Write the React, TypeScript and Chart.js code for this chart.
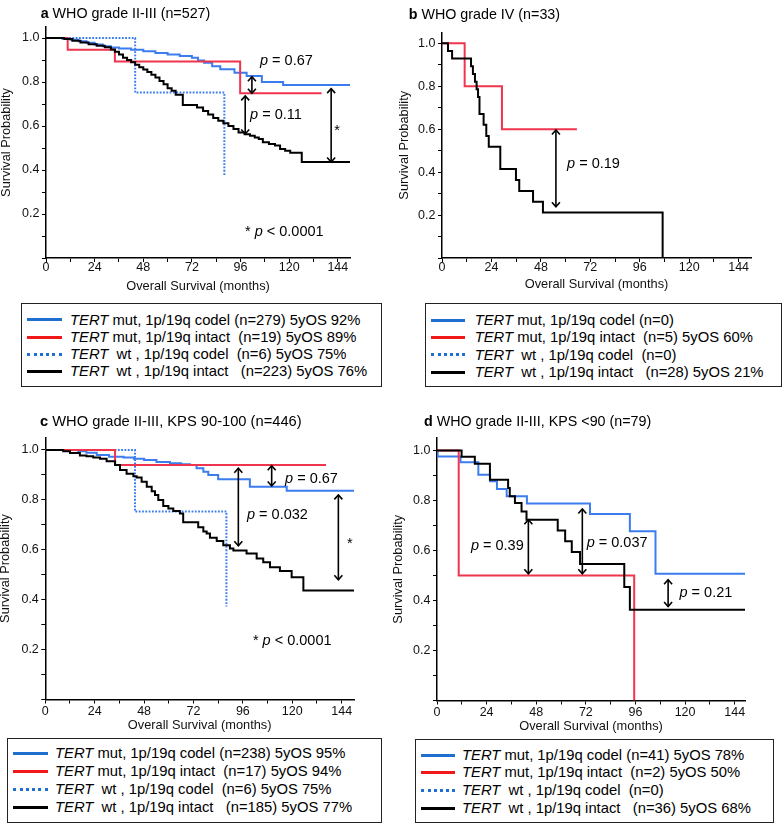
import React, { useEffect, useRef } from "react";
import { Chart, registerables } from "chart.js";

Chart.register(...registerables);

const FONT = '"Liberation Sans", Arial, Helvetica, sans-serif';

// ---------- axis ticks ----------
const monthTicks = [0, 12, 24, 36, 48, 60, 72, 84, 96, 108, 120, 132, 144];
const monthLabels = [0, 24, 48, 72, 96, 120, 144];
const probTicks = [0, 0.1, 0.2, 0.3, 0.4, 0.5, 0.6, 0.7, 0.8, 0.9, 1.0];
const probLabels = [0.2, 0.4, 0.6, 0.8, 1.0];

// ---------- panel a: WHO grade II-III (n=527) ----------
const aMutCodelT = [0, 8, 12, 16, 20, 24, 28, 32, 36, 42, 48, 54, 60, 66, 72, 75, 78, 82, 86, 93, 99, 106.5, 117, 150];
const aMutCodelS = [1, 0.997, 0.992, 0.985, 0.978, 0.97, 0.962, 0.957, 0.952, 0.947, 0.94, 0.932, 0.925, 0.918, 0.91, 0.898, 0.887, 0.872, 0.858, 0.842, 0.827, 0.8, 0.786, 0.786];
const aMutIntactT = [0, 10.7, 34, 95.8, 136];
const aMutIntactS = [1, 0.947, 0.893, 0.749, 0.749];
const aWtCodelT = [0, 44, 88];
const aWtCodelS = [1, 0.752, 0.376];
const aWtIntactT = [0, 9, 13, 17, 21, 25, 29, 32, 34, 36, 38, 40, 42, 44, 46, 48, 50, 52, 54, 56, 58, 60, 62, 64, 67.5, 74.5, 77.5, 80, 82.5, 85, 87.5, 90, 92.5, 95, 98, 100.7, 103, 105, 107, 110, 113, 115.5, 118, 120.5, 126.2, 150];
const aWtIntactS = [1, 0.995, 0.988, 0.98, 0.972, 0.965, 0.958, 0.948, 0.938, 0.925, 0.91, 0.9, 0.89, 0.878, 0.867, 0.857, 0.845, 0.833, 0.82, 0.805, 0.79, 0.772, 0.76, 0.742, 0.695, 0.684, 0.668, 0.652, 0.636, 0.624, 0.613, 0.6, 0.586, 0.571, 0.563, 0.556, 0.548, 0.541, 0.526, 0.518, 0.511, 0.496, 0.487, 0.478, 0.436, 0.436];

// ---------- panel b: WHO grade IV (n=33) ----------
const bMutIntactT = [0, 11, 29.1, 65.5];
const bMutIntactS = [1, 0.8, 0.6, 0.6];
const bWtIntactT = [0, 2.9, 4.9, 14.1, 15, 16, 16.8, 17.5, 18.2, 20.2, 21.5, 22.7, 28.3, 35.9, 37.5, 44.2, 49, 107.1];
const bWtIntactS = [1, 0.964, 0.929, 0.893, 0.857, 0.821, 0.786, 0.75, 0.67, 0.62, 0.568, 0.518, 0.414, 0.363, 0.312, 0.262, 0.212, 0];

// ---------- panel c: WHO grade II-III, KPS 90-100 (n=446) ----------
const cMutCodelT = [0, 16, 20, 25, 31, 38, 43, 48, 54, 60.6, 66, 70.3, 73.5, 76.8, 79.2, 84, 99.4, 117.3, 150];
const cMutCodelS = [1, 0.995, 0.989, 0.98, 0.973, 0.97, 0.965, 0.96, 0.952, 0.947, 0.943, 0.94, 0.927, 0.913, 0.9, 0.883, 0.853, 0.837, 0.837];
const cMutIntactT = [0, 33.9, 136.4];
const cMutIntactS = [1, 0.94, 0.94];
const cWtCodelT = [0, 43.6, 88];
const cWtCodelS = [1, 0.753, 0.373];
const cWtIntactT = [0, 8.7, 12, 16.8, 20, 23.3, 26.6, 29.8, 33.9, 36.3, 39.5, 42.8, 44.4, 46.8, 49.3, 51.7, 53.3, 54.9, 57.3, 59.8, 62.2, 65.4, 67, 74.3, 76.8, 78.4, 80, 83.3, 86.5, 89.7, 91.4, 97.8, 102.7, 105.9, 109.2, 114, 119.7, 125.4, 150];
const cWtIntactS = [1, 0.995, 0.988, 0.978, 0.975, 0.97, 0.965, 0.955, 0.94, 0.92, 0.905, 0.895, 0.89, 0.873, 0.853, 0.835, 0.82, 0.8, 0.775, 0.765, 0.755, 0.745, 0.71, 0.69, 0.673, 0.665, 0.648, 0.635, 0.618, 0.605, 0.597, 0.585, 0.565, 0.55, 0.53, 0.515, 0.49, 0.437, 0.437];

// ---------- panel d: WHO grade II-III, KPS <90 (n=79) ----------
const dMutCodelT = [0, 0.3, 11.4, 20, 25.7, 29, 33.7, 43.5, 74, 93.3, 105.7, 149];
const dMutCodelS = [1, 0.976, 0.953, 0.903, 0.877, 0.846, 0.817, 0.788, 0.746, 0.677, 0.507, 0.507];
const dMutIntactT = [0, 10.5, 95.4];
const dMutIntactS = [1, 0.5, 0];
const dWtIntactT = [0, 11.9, 18.3, 25.6, 34.4, 35.2, 37.7, 40.9, 43.3, 58.4, 62, 65.2, 69.2, 90.6, 93.3, 149];
const dWtIntactS = [1, 0.975, 0.947, 0.883, 0.85, 0.817, 0.79, 0.756, 0.723, 0.68, 0.637, 0.594, 0.546, 0.454, 0.363, 0.363];

// ---------- legend texts ----------
const legendA = [" mut, 1p/19q codel (n=279) 5yOS 92%", " mut, 1p/19q intact  (n=19) 5yOS 89%", "  wt , 1p/19q codel  (n=6) 5yOS 75%", "  wt , 1p/19q intact   (n=223) 5yOS 76%"];
const legendB = [" mut, 1p/19q codel (n=0)", " mut, 1p/19q intact  (n=5) 5yOS 60%", "  wt , 1p/19q codel  (n=0)", "  wt , 1p/19q intact   (n=28) 5yOS 21%"];
const legendC = [" mut, 1p/19q codel (n=238) 5yOS 95%", " mut, 1p/19q intact  (n=17) 5yOS 94%", "  wt , 1p/19q codel  (n=6) 5yOS 75%", "  wt , 1p/19q intact   (n=185) 5yOS 77%"];
const legendD = [" mut, 1p/19q codel (n=41) 5yOS 78%", " mut, 1p/19q intact  (n=2) 5yOS 50%", "  wt , 1p/19q codel  (n=0)", "  wt , 1p/19q intact   (n=36) 5yOS 68%"];

// ---------- styles ----------
const PLOT_BLUE = "#3b7cee";
const PLOT_RED = "#f0344d";
const PLOT_BLACK = "#000000";
const LEG_BLUE = "#1f6fd0";
const LEG_RED = "#f01818";
const DOT_DASH = [1.8, 1.5];

type Series = { t: number[]; s: number[]; color: string; dash?: number[] };
type Arrow = { x: number; y1: number; y2: number };
type Seg = { t: string; i?: boolean };
type Label = { x: number; y: number; segs: Seg[]; align?: "left" | "center" };
type PanelCfg = {
  canvas: { left: number; top: number; width: number; height: number };
  area: { l: number; r: number; t: number; b: number };
  xMax: number;
  tickPad: number;
  xTitleGap: number;
  yTitleGap: number;
  series: Series[];
  arrows: Arrow[];
  labels: Label[];
};

const P = (rest: string): Seg[] => [{ t: "p", i: true }, { t: rest }];
const STAR: Seg[] = [{ t: "* " }, { t: "p", i: true }, { t: " < 0.0001" }];

const panelA: PanelCfg = {
  canvas: { left: 0, top: 0, width: 392, height: 300 },
  area: { l: 46, r: 350, t: 27, b: 258 },
  xMax: 150, tickPad: -0.5, xTitleGap: 28, yTitleGap: 40,
  series: [
    { t: aWtIntactT, s: aWtIntactS, color: PLOT_BLACK },
    { t: aMutIntactT, s: aMutIntactS, color: PLOT_RED },
    { t: aWtCodelT, s: aWtCodelS, color: PLOT_BLUE, dash: DOT_DASH },
    { t: aMutCodelT, s: aMutCodelS, color: PLOT_BLUE },
  ],
  arrows: [
    { x: 101.6, y1: 0.824, y2: 0.749 },
    { x: 98.3, y1: 0.737, y2: 0.564 },
    { x: 140.7, y1: 0.77, y2: 0.436 },
  ],
  labels: [
    { x: 105.6, y: 0.876, segs: P(" = 0.67") },
    { x: 100.7, y: 0.63, segs: P(" = 0.11") },
    { x: 143.6, y: 0.559, segs: [{ t: "*" }], align: "center" },
    { x: 98.2, y: 0.1, segs: STAR },
  ],
};

const panelB: PanelCfg = {
  canvas: { left: 392, top: 0, width: 392, height: 300 },
  area: { l: 442, r: 751, t: 32.5, b: 258 },
  xMax: 150, tickPad: -1, xTitleGap: 26, yTitleGap: 38,
  series: [
    { t: bWtIntactT, s: bWtIntactS, color: PLOT_BLACK },
    { t: bMutIntactT, s: bMutIntactS, color: PLOT_RED },
  ],
  arrows: [{ x: 55.3, y1: 0.596, y2: 0.239 }],
  labels: [{ x: 60.7, y: 0.418, segs: P(" = 0.19") }],
};

const panelC: PanelCfg = {
  canvas: { left: 0, top: 400, width: 392, height: 336 },
  area: { l: 45.3, r: 354, t: 437.5, b: 699.5 },
  xMax: 150, tickPad: 1.5, xTitleGap: 25.5, yTitleGap: 40,
  series: [
    { t: cWtIntactT, s: cWtIntactS, color: PLOT_BLACK },
    { t: cMutIntactT, s: cMutIntactS, color: PLOT_RED },
    { t: cWtCodelT, s: cWtCodelS, color: PLOT_BLUE, dash: DOT_DASH },
    { t: cMutCodelT, s: cMutCodelS, color: PLOT_BLUE },
  ],
  arrows: [
    { x: 110, y1: 0.937, y2: 0.856 },
    { x: 93.8, y1: 0.927, y2: 0.616 },
    { x: 142.4, y1: 0.82, y2: 0.48 },
  ],
  labels: [
    { x: 116.5, y: 0.869, segs: P(" = 0.67") },
    { x: 98, y: 0.724, segs: P(" = 0.032") },
    { x: 148, y: 0.606, segs: [{ t: "*" }], align: "center" },
    { x: 100.9, y: 0.22, segs: STAR },
  ],
};

const panelD: PanelCfg = {
  canvas: { left: 392, top: 400, width: 392, height: 336 },
  area: { l: 437, r: 745, t: 438, b: 700.5 },
  xMax: 149, tickPad: 2, xTitleGap: 26, yTitleGap: 39,
  series: [
    { t: dWtIntactT, s: dWtIntactS, color: PLOT_BLACK },
    { t: dMutIntactT, s: dMutIntactS, color: PLOT_RED },
    { t: dMutCodelT, s: dMutCodelS, color: PLOT_BLUE },
  ],
  arrows: [
    { x: 44.2, y1: 0.723, y2: 0.507 },
    { x: 70.3, y1: 0.766, y2: 0.507 },
    { x: 111.8, y1: 0.483, y2: 0.376 },
  ],
  labels: [
    { x: 16.4, y: 0.603, segs: P(" = 0.39") },
    { x: 72.4, y: 0.616, segs: P(" = 0.037") },
    { x: 117.3, y: 0.416, segs: P(" = 0.21") },
  ],
};

function makeAnnotPlugin(cfg: PanelCfg) {
  return {
    id: "kmAnnot",
    afterDatasetsDraw(chart: any) {
      const ctx: CanvasRenderingContext2D = chart.ctx;
      const xs = chart.scales.x;
      const ys = chart.scales.y;
      const area = chart.chartArea;
      ctx.save();
      // arrows
      ctx.strokeStyle = "#000";
      ctx.lineWidth = 1.6;
      ctx.lineJoin = "miter";
      cfg.arrows.forEach((a) => {
        const x = xs.getPixelForValue(a.x);
        const yt = ys.getPixelForValue(a.y1);
        const yb = ys.getPixelForValue(a.y2);
        const w = 4;
        const h = 4.5;
        ctx.beginPath();
        ctx.moveTo(x, yt);
        ctx.lineTo(x, yb);
        ctx.stroke();
        ctx.beginPath();
        ctx.moveTo(x - w, yt + h);
        ctx.lineTo(x, yt);
        ctx.lineTo(x + w, yt + h);
        ctx.stroke();
        ctx.beginPath();
        ctx.moveTo(x - w, yb - h);
        ctx.lineTo(x, yb);
        ctx.lineTo(x + w, yb - h);
        ctx.stroke();
      });
      // p-value labels
      ctx.fillStyle = "#000";
      ctx.textBaseline = "alphabetic";
      ctx.textAlign = "left";
      const fontOf = (s: Seg) => `${s.i ? "italic " : ""}14.5px ${FONT}`;
      cfg.labels.forEach((l) => {
        let x = xs.getPixelForValue(l.x);
        const y = ys.getPixelForValue(l.y);
        if (l.align === "center") {
          let w = 0;
          l.segs.forEach((s) => {
            ctx.font = fontOf(s);
            w += ctx.measureText(s.t).width;
          });
          x -= w / 2;
        }
        l.segs.forEach((s) => {
          ctx.font = fontOf(s);
          ctx.fillText(s.t, x, y);
          x += ctx.measureText(s.t).width;
        });
      });
      // axis titles
      ctx.font = `12.8px ${FONT}`;
      ctx.fillStyle = "#111";
      ctx.textAlign = "center";
      ctx.textBaseline = "middle";
      ctx.fillText("Overall Survival (months)", (area.left + area.right) / 2, area.bottom + cfg.xTitleGap);
      ctx.save();
      ctx.translate(area.left - cfg.yTitleGap, (area.top + area.bottom) / 2);
      ctx.rotate(-Math.PI / 2);
      ctx.fillText("Survival Probability", 0, 0);
      ctx.restore();
      ctx.restore();
    },
  };
}

function KMPanel({ cfg }: { cfg: PanelCfg }) {
  const ref = useRef<HTMLCanvasElement>(null);
  useEffect(() => {
    const c = cfg.canvas;
    const a = cfg.area;
    const yW = a.l - c.left;
    const xH = 30;
    const tickFont = { family: FONT, size: 12.5, lineHeight: 1 };
    const grid = { drawOnChartArea: false, drawTicks: true, tickLength: 4, color: "#000", lineWidth: 1 };
    const border = { display: true, color: "#000", width: 1.5 };
    const chart = new Chart(ref.current as HTMLCanvasElement, {
      type: "line",
      data: {
        datasets: cfg.series.map((s) => ({
          data: s.t.map((t, i) => ({ x: t, y: s.s[i] })),
          borderColor: s.color,
          borderWidth: 2,
          borderDash: s.dash || [],
          stepped: "before" as const,
          pointRadius: 0,
          fill: false,
          tension: 0,
        })),
      },
      options: {
        responsive: false,
        animation: false,
        devicePixelRatio: 1,
        events: [],
        layout: {
          padding: {
            left: 0,
            top: a.t - c.top,
            right: c.left + c.width - a.r,
            bottom: c.top + c.height - a.b - xH,
          },
        },
        scales: {
          x: {
            type: "linear",
            min: 0,
            max: cfg.xMax,
            afterFit: (s: any) => {
              s.height = xH;
            },
            afterBuildTicks: (s: any) => {
              s.ticks = monthTicks.map((v) => ({ value: v }));
            },
            ticks: {
              autoSkip: false,
              maxRotation: 0,
              padding: cfg.tickPad,
              font: tickFont,
              color: "#111",
              callback: (v: any) => (monthLabels.includes(Number(v)) ? String(v) : ""),
            },
            grid,
            border,
          },
          y: {
            type: "linear",
            min: 0,
            max: 1.05,
            afterFit: (s: any) => {
              s.width = yW;
            },
            afterBuildTicks: (s: any) => {
              s.ticks = probTicks.map((v) => ({ value: v }));
            },
            ticks: {
              autoSkip: false,
              padding: 2.5,
              font: tickFont,
              color: "#111",
              callback: (v: any) =>
                probLabels.some((p) => Math.abs(p - Number(v)) < 1e-6) ? Number(v).toFixed(1) : "",
            },
            grid,
            border,
          },
        },
        plugins: { legend: { display: false }, tooltip: { enabled: false }, title: { display: false } },
      },
      plugins: [makeAnnotPlugin(cfg)],
    } as any);
    return () => chart.destroy();
  }, [cfg]);
  const c = cfg.canvas;
  return (
    <canvas
      ref={ref}
      width={c.width}
      height={c.height}
      style={{ position: "absolute", left: c.left, top: c.top, width: c.width, height: c.height }}
    />
  );
}

function Title({ left, cy, letter, text, size }: { left: number; cy: number; letter: string; text: string; size: number }) {
  return (
    <div
      style={{
        position: "absolute",
        left,
        top: cy - 8,
        height: 16,
        lineHeight: "16px",
        fontSize: size,
        fontFamily: FONT,
        color: "#000",
        whiteSpace: "pre",
      }}
    >
      <b>{letter}</b>
      {" " + text}
    </div>
  );
}

const sampleStyles = [
  { color: LEG_BLUE, style: "solid" },
  { color: LEG_RED, style: "solid" },
  { color: LEG_BLUE, style: "dotted" },
  { color: "#000", style: "solid" },
];

function Legend({
  box,
  rows,
  sample,
  textLeft,
  texts,
}: {
  box: { l: number; t: number; w: number; h: number };
  rows: number[];
  sample: [number, number];
  textLeft: number;
  texts: string[];
}) {
  return (
    <>
      <div
        style={{
          position: "absolute",
          left: box.l,
          top: box.t,
          width: box.w,
          height: box.h,
          border: "1px solid #222",
          boxSizing: "border-box",
        }}
      />
      {texts.map((t, i) => (
        <React.Fragment key={i}>
          <div
            style={{
              position: "absolute",
              left: sample[0],
              top: rows[i] - 1.5,
              width: sample[1] - sample[0],
              height: 0,
              borderTop: `3px ${sampleStyles[i].style} ${sampleStyles[i].color}`,
            }}
          />
          <div
            style={{
              position: "absolute",
              left: textLeft,
              top: rows[i] - 9,
              height: 18,
              lineHeight: "18px",
              fontSize: 14.8,
              fontFamily: FONT,
              color: "#000",
              whiteSpace: "pre",
            }}
          >
            <i>TERT</i>
            {t}
          </div>
        </React.Fragment>
      ))}
    </>
  );
}

export default function App() {
  return (
    <div
      style={{
        position: "absolute",
        left: 0,
        top: 0,
        width: 784,
        height: 824,
        background: "#fff",
        overflow: "hidden",
        fontFamily: FONT,
      }}
    >
      <KMPanel cfg={panelA} />
      <KMPanel cfg={panelB} />
      <KMPanel cfg={panelC} />
      <KMPanel cfg={panelD} />
      <Title left={40.7} cy={13.3} letter="a" text="WHO grade II-III (n=527)" size={14.3} />
      <Title left={408.7} cy={14.3} letter="b" text="WHO grade IV (n=33)" size={14.3} />
      <Title left={40} cy={420.7} letter="c" text="WHO grade II-III, KPS 90-100 (n=446)" size={14.7} />
      <Title left={424} cy={421} letter="d" text="WHO grade II-III, KPS <90 (n=79)" size={14.3} />
      <Legend box={{ l: 20.7, t: 302.7, w: 361, h: 84.3 }} rows={[319.8, 337, 354.2, 371.4]} sample={[27, 62]} textLeft={70} texts={legendA} />
      <Legend box={{ l: 425, t: 302.7, w: 357, h: 84 }} rows={[320, 337, 354.5, 372]} sample={[431, 465]} textLeft={474.7} texts={legendB} />
      <Legend box={{ l: 7, t: 738, w: 375, h: 84.5 }} rows={[753.3, 771, 789.3, 807.3]} sample={[13, 48]} textLeft={55} texts={legendC} />
      <Legend box={{ l: 414.7, t: 739, w: 359, h: 84 }} rows={[755, 772.3, 790, 808]} sample={[421, 455]} textLeft={462} texts={legendD} />
    </div>
  );
}
